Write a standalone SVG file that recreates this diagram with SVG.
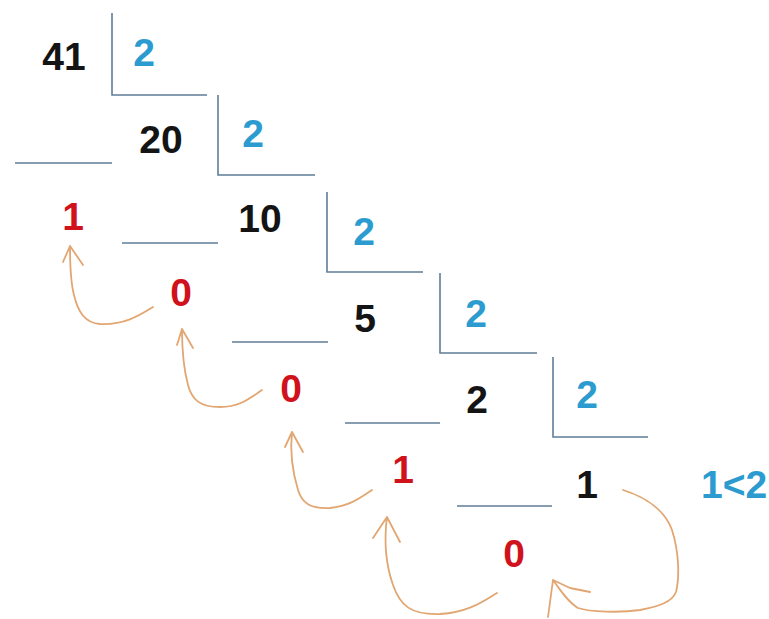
<svg xmlns="http://www.w3.org/2000/svg" width="769" height="619" viewBox="0 0 769 619">
<style>
text{font-family:"Liberation Sans","Open Sans",Arial,sans-serif;font-weight:bold;font-size:39px;text-anchor:middle}
.k{fill:#141414}.b{fill:#2b9bd0}.r{fill:#d0121c}
.ln{stroke:#5f7e98;stroke-width:1.6;fill:none}
.ar{stroke:#e2a672;stroke-width:1.8;fill:none;stroke-linecap:round;stroke-linejoin:round}
</style>
<rect width="769" height="619" fill="#ffffff"/>
<g id="brackets">
<path class="ln" d="M112,13 V95 H207"/>
<path class="ln" d="M218,95 V175 H315"/>
<path class="ln" d="M327,192 V272 H423"/>
<path class="ln" d="M440,273 V353 H537"/>
<path class="ln" d="M553,357 V437 H648"/>
<path class="ln" d="M15,163 H112"/>
<path class="ln" d="M122,243 H218"/>
<path class="ln" d="M232,342 H328"/>
<path class="ln" d="M345,423 H440"/>
<path class="ln" d="M457,506 H552"/>
</g>
<g id="n41"><text class="k" x="64" y="70">41</text></g>
<g id="d1"><text class="b" x="144" y="66">2</text></g>
<g id="n20"><text class="k" x="161" y="153">20</text></g>
<g id="d2"><text class="b" x="253" y="147">2</text></g>
<g id="r1"><text class="r" x="73" y="230">1</text></g>
<g id="n10"><text class="k" x="260" y="232">10</text></g>
<g id="d3"><text class="b" x="364" y="245">2</text></g>
<g id="r2"><text class="r" x="181" y="306">0</text></g>
<g id="n5"><text class="k" x="365" y="332">5</text></g>
<g id="d4"><text class="b" x="476" y="327">2</text></g>
<g id="r3"><text class="r" x="291" y="402">0</text></g>
<g id="n2"><text class="k" x="477" y="413">2</text></g>
<g id="d5"><text class="b" x="587" y="408">2</text></g>
<g id="r4"><text class="r" x="403" y="483">1</text></g>
<g id="n1"><text class="k" x="587" y="498">1</text></g>
<g id="cmp"><text class="b" x="701" y="498" style="text-anchor:start">1&lt;2</text></g>
<g id="r5"><text class="r" x="514" y="567">0</text></g>
<g id="connectors">
<path class="ar" d="M153,307 C140,315 125,325 100,324 C85,323 78,312 74,295 C70,280 70,262 70,246 M63,262 L70,246 L83,265"/>
<path class="ar" d="M262,390 C250,398 240,407 220,407 C200,407 192,400 188,385 C184,370 182,350 182,329 M177,345 L182,329 L193,348"/>
<path class="ar" d="M372,490 C360,498 350,506 330,508 C310,509 302,503 298,490 C292,470 290,450 292,432 M285,447 L292,432 L303,452"/>
<path class="ar" d="M497,593 C485,600 470,612 440,614 C410,615 400,605 393,585 C386,565 384,540 387,517 M373,538 L387,517 L400,542"/>
<path class="ar" d="M623,490 C645,497 665,510 672,530 C680,555 679,580 676,592 C672,602 660,606 640,610 C620,613 590,612 578,608 C568,602 560,590 553,580 M553,580 L548,617 M553,580 L570,588 L590,592"/>
</g>
</svg>
